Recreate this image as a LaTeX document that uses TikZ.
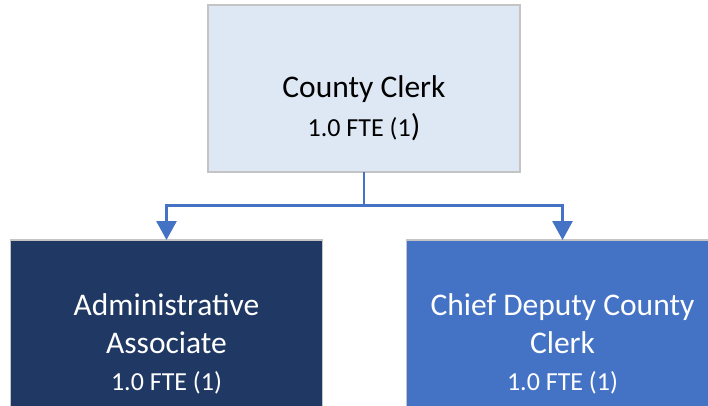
\documentclass[tikz,border=0pt]{standalone}
\usepackage{fontspec}
\setmainfont{Carlito}
\usetikzlibrary{arrows.meta}
\definecolor{topfill}{HTML}{DEE8F4}
\definecolor{navy}{HTML}{203864}
\definecolor{midblue}{HTML}{4472C4}
\definecolor{edgegray}{HTML}{C4C4C4}
\tikzset{
  box/.style={draw=edgegray, line width=1.3pt, minimum width=312pt, minimum height=167pt, inner sep=0pt, outer sep=0pt, anchor=north west},
  title/.style={anchor=base, font=\fontsize{31.5}{36}\selectfont, inner sep=0pt},
  sub/.style={anchor=base, font=\fontsize{26}{30}\selectfont, inner sep=0pt},
  conn/.style={draw=midblue, line width=2.8pt},
  arr/.style={conn, -{Triangle[length=19pt,width=20pt]}}
}
\begin{document}
\begin{tikzpicture}[x=1pt,y=-1pt]
\useasboundingbox (0,0) rectangle (708,406);
\clip (0,0) rectangle (708,406);
\node[box, fill=topfill] (top) at (208,5) {};
\node[box, fill=navy] (left) at (10.5,240) {};
\node[box, fill=midblue] (right) at (406.5,240) {};
% texts
\node[title] (t1) at (364,98) {County Clerk};
\node[sub] (t2) at (364,137) {1.0 FTE (1{\fontsize{31.5}{36}\selectfont)}};
\node[title, text=white] (l1) at (166.5,315) {Administrative};
\node[title, text=white] (l2) at (166.5,353) {Associate};
\node[sub, text=white] (l3) at (166.5,390) {1.0 FTE (1)};
\node[title, text=white] (r1) at (562.5,315) {Chief Deputy County};
\node[title, text=white] (r2) at (562.5,353) {Clerk};
\node[sub, text=white] (r3) at (562.5,390) {1.0 FTE (1)};
% connectors
\coordinate (j) at (top.south |- 0,205.5);
\draw[arr] (top.south) -- (j) -| (left.north);
\draw[arr] (top.south) -- (j) -| (right.north);
\end{tikzpicture}
\end{document}
